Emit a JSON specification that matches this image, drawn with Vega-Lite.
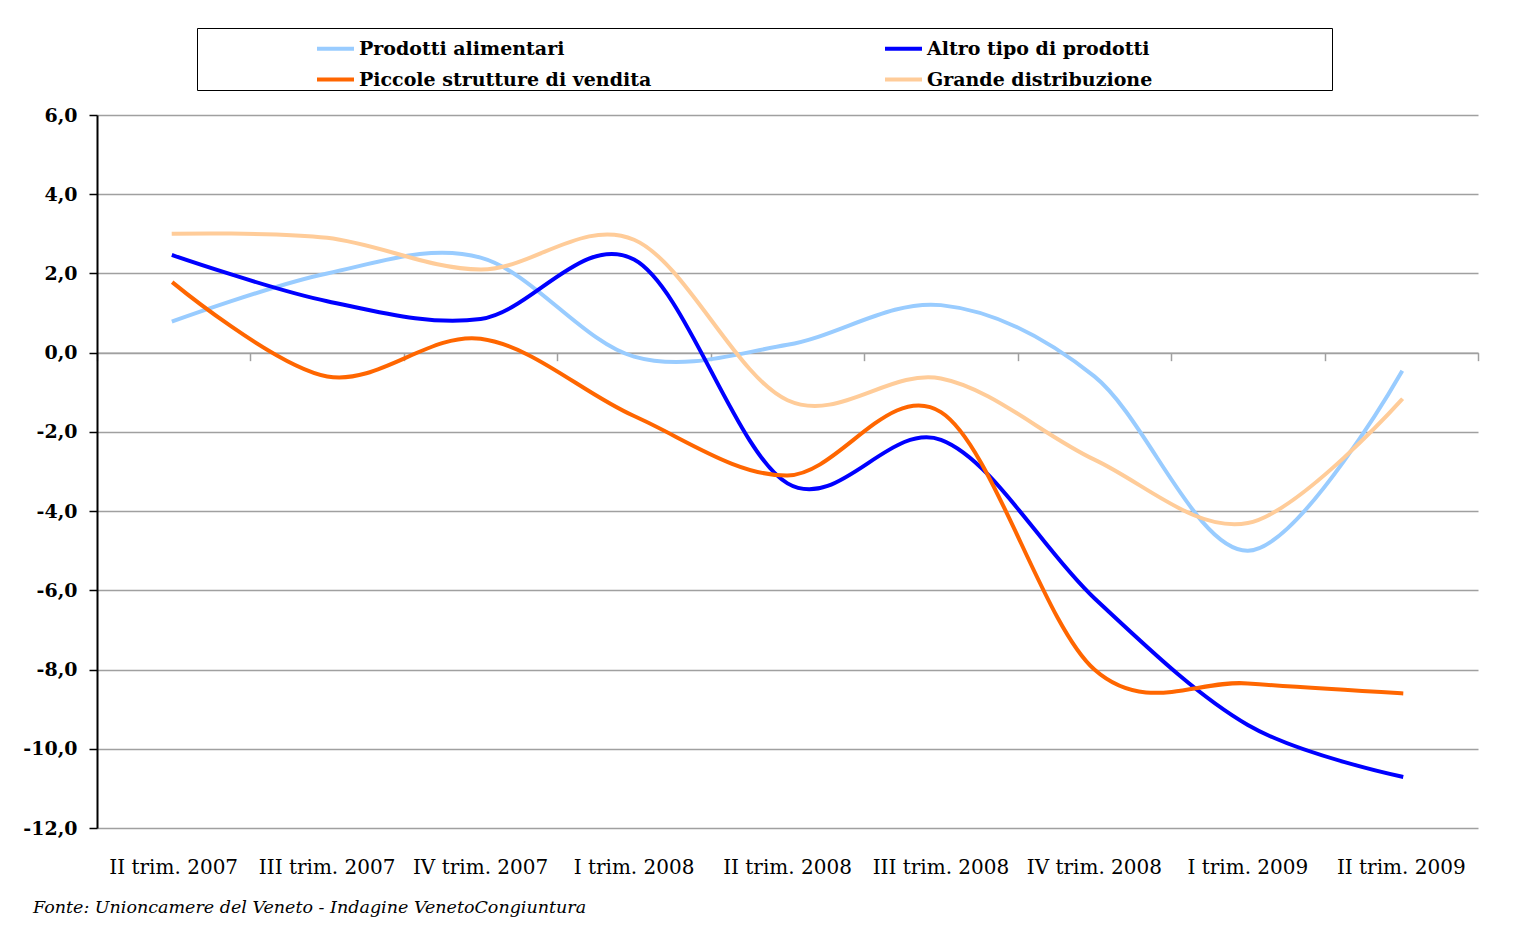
{
  "$schema": "https://vega.github.io/schema/vega-lite/v6.json",
  "width": 1381,
  "height": 713,
  "autosize": {"type": "none"},
  "padding": {"left": 97, "top": 115, "right": 38, "bottom": 116},
  "background": "white",
  "config": {"view": {"stroke": null}},
  "title": {
    "text": "Fonte: Unioncamere del Veneto - Indagine VenetoCongiuntura",
    "orient": "bottom",
    "anchor": "start",
    "frame": "group",
    "dx": -64,
    "offset": 22,
    "font": "DejaVu Serif",
    "fontStyle": "italic",
    "fontWeight": "normal",
    "fontSize": 17.5,
    "color": "black"
  },
  "data": {
    "values": [
      {"trimestre": "II trim. 2007", "serie": "Prodotti alimentari", "valore": 0.8},
      {"trimestre": "III trim. 2007", "serie": "Prodotti alimentari", "valore": 2.0},
      {"trimestre": "IV trim. 2007", "serie": "Prodotti alimentari", "valore": 2.4},
      {"trimestre": "I trim. 2008", "serie": "Prodotti alimentari", "valore": -0.1},
      {"trimestre": "II trim. 2008", "serie": "Prodotti alimentari", "valore": 0.2},
      {"trimestre": "III trim. 2008", "serie": "Prodotti alimentari", "valore": 1.2},
      {"trimestre": "IV trim. 2008", "serie": "Prodotti alimentari", "valore": -0.6},
      {"trimestre": "I trim. 2009", "serie": "Prodotti alimentari", "valore": -5.0},
      {"trimestre": "II trim. 2009", "serie": "Prodotti alimentari", "valore": -0.5},
      {"trimestre": "II trim. 2007", "serie": "Altro tipo di prodotti", "valore": 2.45},
      {"trimestre": "III trim. 2007", "serie": "Altro tipo di prodotti", "valore": 1.3},
      {"trimestre": "IV trim. 2007", "serie": "Altro tipo di prodotti", "valore": 0.85},
      {"trimestre": "I trim. 2008", "serie": "Altro tipo di prodotti", "valore": 2.35},
      {"trimestre": "II trim. 2008", "serie": "Altro tipo di prodotti", "valore": -3.3},
      {"trimestre": "III trim. 2008", "serie": "Altro tipo di prodotti", "valore": -2.2},
      {"trimestre": "IV trim. 2008", "serie": "Altro tipo di prodotti", "valore": -6.2},
      {"trimestre": "I trim. 2009", "serie": "Altro tipo di prodotti", "valore": -9.4},
      {"trimestre": "II trim. 2009", "serie": "Altro tipo di prodotti", "valore": -10.7},
      {"trimestre": "II trim. 2007", "serie": "Piccole strutture di vendita", "valore": 1.75},
      {"trimestre": "III trim. 2007", "serie": "Piccole strutture di vendita", "valore": -0.6},
      {"trimestre": "IV trim. 2007", "serie": "Piccole strutture di vendita", "valore": 0.35},
      {"trimestre": "I trim. 2008", "serie": "Piccole strutture di vendita", "valore": -1.6},
      {"trimestre": "II trim. 2008", "serie": "Piccole strutture di vendita", "valore": -3.1},
      {"trimestre": "III trim. 2008", "serie": "Piccole strutture di vendita", "valore": -1.5},
      {"trimestre": "IV trim. 2008", "serie": "Piccole strutture di vendita", "valore": -8.0},
      {"trimestre": "I trim. 2009", "serie": "Piccole strutture di vendita", "valore": -8.35},
      {"trimestre": "II trim. 2009", "serie": "Piccole strutture di vendita", "valore": -8.6},
      {"trimestre": "II trim. 2007", "serie": "Grande distribuzione", "valore": 3.0},
      {"trimestre": "III trim. 2007", "serie": "Grande distribuzione", "valore": 2.9},
      {"trimestre": "IV trim. 2007", "serie": "Grande distribuzione", "valore": 2.1},
      {"trimestre": "I trim. 2008", "serie": "Grande distribuzione", "valore": 2.85},
      {"trimestre": "II trim. 2008", "serie": "Grande distribuzione", "valore": -1.2},
      {"trimestre": "III trim. 2008", "serie": "Grande distribuzione", "valore": -0.65},
      {"trimestre": "IV trim. 2008", "serie": "Grande distribuzione", "valore": -2.7},
      {"trimestre": "I trim. 2009", "serie": "Grande distribuzione", "valore": -4.3},
      {"trimestre": "II trim. 2009", "serie": "Grande distribuzione", "valore": -1.2}
    ]
  },
  "layer": [
    {
      "mark": {"type": "line", "opacity": 0},
      "encoding": {
        "x": {
          "field": "trimestre",
          "type": "ordinal",
          "bandPosition": 0.5,
          "axis": {
            "orient": "bottom",
            "offset": -475.33,
            "title": null,
            "labels": false,
            "grid": false,
            "domainColor": "#a0a0a0",
            "domainWidth": 1.5,
            "tickColor": "#a0a0a0",
            "tickWidth": 1.5,
            "tickSize": 8,
            "tickBand": "extent"
          }
        },
        "y": {"field": "valore", "type": "quantitative"}
      }
    },
    {
      "mark": {"type": "line", "interpolate": "cardinal", "strokeWidth": 4, "strokeCap": "square"},
      "encoding": {
        "x": {
          "field": "trimestre",
          "type": "ordinal",
          "bandPosition": 0.5,
          "scale": {
            "type": "band",
            "domain": ["II trim. 2007", "III trim. 2007", "IV trim. 2007", "I trim. 2008", "II trim. 2008", "III trim. 2008", "IV trim. 2008", "I trim. 2009", "II trim. 2009"],
            "paddingInner": 0,
            "paddingOuter": 0
          },
          "axis": {
            "orient": "bottom",
            "title": null,
            "domain": false,
            "ticks": false,
            "grid": false,
            "labelAngle": 0,
            "labelPadding": 29,
            "labelFont": "DejaVu Serif",
            "labelFontSize": 20,
            "labelColor": "black"
          }
        },
        "y": {
          "field": "valore",
          "type": "quantitative",
          "scale": {"domain": [-12, 6], "nice": false, "zero": false},
          "axis": {
            "title": null,
            "values": [-12, -10, -8, -6, -4, -2, 0, 2, 4, 6],
            "labelExpr": "replace(replace(format(datum.value, '.1f'), '.', ','), '\u2212', '-')",
            "domainColor": "black",
            "domainWidth": 2,
            "tickColor": "black",
            "tickWidth": 1.5,
            "tickSize": 8,
            "labelPadding": 12,
            "labelFont": "DejaVu Serif",
            "labelFontWeight": "bold",
            "labelFontSize": 19,
            "labelColor": "black",
            "grid": true,
            "gridColor": "#a0a0a0",
            "gridWidth": 1.5
          }
        },
        "color": {
          "field": "serie",
          "type": "nominal",
          "scale": {
            "domain": ["Prodotti alimentari", "Altro tipo di prodotti", "Piccole strutture di vendita", "Grande distribuzione"],
            "range": ["#99ccff", "#0000ff", "#ff6600", "#ffcc99"]
          },
          "legend": {
            "orient": "none",
            "legendX": 100,
            "legendY": -87,
            "direction": "horizontal",
            "columns": 2,
            "title": " ",
            "titleOrient": "right",
            "titleFontSize": 1,
            "titlePadding": 180,
            "padding": 0,
            "fillColor": "white",
            "strokeColor": "black",
            "symbolType": "stroke",
            "symbolSize": 1369,
            "symbolStrokeWidth": 4,
            "symbolOffset": 118,
            "labelFont": "DejaVu Serif",
            "labelFontWeight": "bold",
            "labelFontSize": 19,
            "labelColor": "black",
            "labelOffset": 3,
            "labelLimit": 0,
            "columnPadding": 113,
            "rowPadding": 0
          }
        }
      }
    }
  ],
  "resolve": {"axis": {"x": "independent"}}
}
